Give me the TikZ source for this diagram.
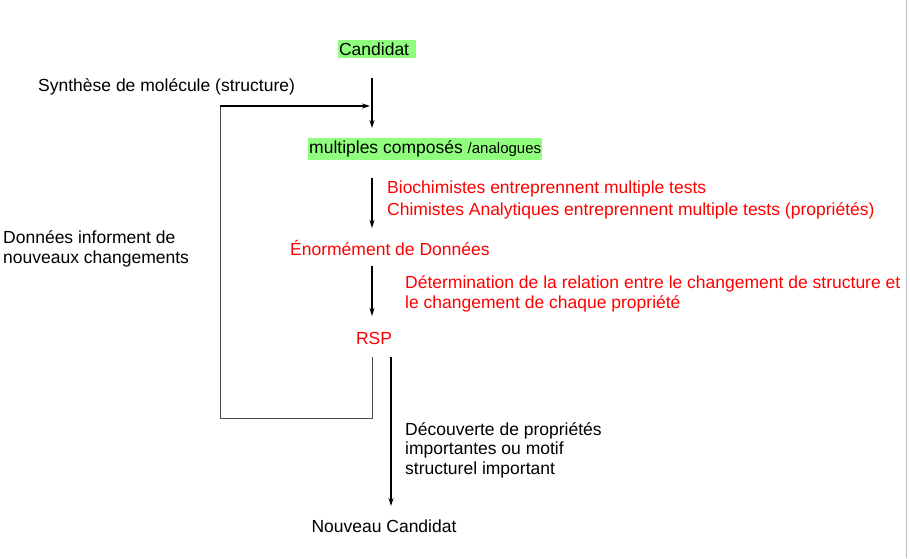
\documentclass[tikz,border=0pt]{standalone}
\usepackage{fontspec}
\usetikzlibrary{arrows.meta}
\setmainfont{Liberation Sans}
\begin{document}
\begin{tikzpicture}[x=1pt,y=-1pt,
  lbl/.style={font=\fontsize{17.5}{19.5}\selectfont,inner sep=0pt},
  red/.style={lbl,text=red},
  hl/.style={lbl,fill=green!45!white!90!lime,inner xsep=1pt,inner ysep=3pt},
  arr/.style={-{Stealth[length=8pt,width=5pt]},line width=1.3pt},
  fb/.style={line width=1pt,draw=black!70}]
\useasboundingbox (0,0) rectangle (910,558);
\fill[white] (0,0) rectangle (910,558);
\draw[black!25,line width=1pt] (906,0) -- (906,558);
\node[hl] (cand) at (377,49) {Candidat\,\,};
\node[hl,anchor=west] (mult) at (308,149) {multiples composés {\fontsize{15}{16}\selectfont/analogues}};
\node[red,anchor=west] (ene) at (290,248) {Énormément de Données};
\node[red] (rsp) at (374,338) {RSP};
\node[lbl] (nc) at (384,526) {Nouveau Candidat};
\node[lbl,anchor=west] (syn) at (38,87) {Synthèse de molécule (structure)};
\node[lbl,anchor=west,align=left] (don) at (3,249) {Données informent de\\nouveaux changements};
\node[red,anchor=west,align=left] (bio) at (387,200) {Biochimistes entreprennent multiple tests\\[2pt]Chimistes Analytiques entreprennent multiple tests (propriétés)};
\node[red,anchor=west,align=left] (det) at (405,294) {Détermination de la relation entre le changement de structure et\\le changement de chaque propriété};
\node[lbl,anchor=west,align=left] (dec) at (405,450) {Découverte de propriétés\\importantes ou motif\\structurel important};
\coordinate (a1s) at (372,78); \coordinate (a1e) at (372,128);
\coordinate (a2s) at (372,178); \coordinate (a2e) at (372,228);
\coordinate (a3s) at (372,266); \coordinate (a3e) at (372,316);
\coordinate (a4s) at (391,357); \coordinate (a4e) at (391,506);
\coordinate (f1) at (372,357); \coordinate (f2) at (372,418);
\coordinate (f3) at (220,418); \coordinate (f4) at (220,106);
\coordinate (f5) at (370,106);
\draw[arr] (a1s) -- (a1e);
\draw[arr] (a2s) -- (a2e);
\draw[arr] (a3s) -- (a3e);
\draw[arr] (a4s) -- (a4e);
\draw[fb] (f1) -- (f2) -- (f3) -- (f4);
\draw[line width=1.3pt,-{Stealth[length=8pt,width=5pt]}] (f4) -- (f5);
\end{tikzpicture}
\end{document}
